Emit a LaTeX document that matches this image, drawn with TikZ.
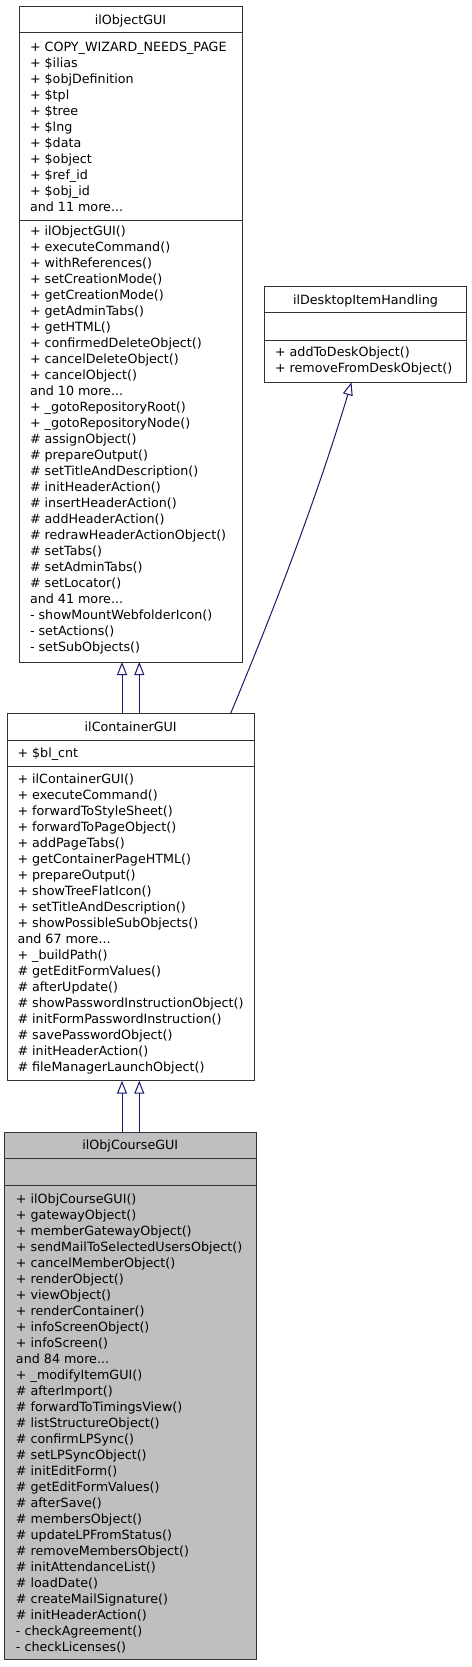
\documentclass[tikz,border=0pt]{standalone}
\usepackage{fontspec}
\setmainfont{DejaVu Sans}
\usetikzlibrary{arrows.meta}
\definecolor{edgeblue}{HTML}{191970}
\definecolor{boxgray}{HTML}{BFBFBF}
\definecolor{boxline}{HTML}{333333}
\newcommand\umlfont{\fontsize{12.7}{16}\selectfont}
\newcommand\mdots{.{}.{}.}
\newcommand\umlLines[4]{%
  \foreach \t [count=\i from 0] in {#4} {
    \node[txt] (#1\i) at (#2, #3+16*\i) {\t};
  }%
}
\begin{document}
\begin{tikzpicture}[x=1pt,y=-1pt,
  box/.style={draw=boxline, line width=1pt, inner sep=0pt, outer sep=0pt, anchor=north west, fill=white},
  sepline/.style={draw=boxline, line width=1pt},
  txt/.style={anchor=base west, inner sep=0pt, outer sep=0pt, font=\umlfont},
  ttl/.style={anchor=base, inner sep=0pt, outer sep=0pt, font=\umlfont},
  inh/.style={draw=edgeblue, line width=1pt, -{Triangle[open, length=13pt, width=10pt, line width=1pt]}}
]
\useasboundingbox (0,0) rectangle (471,1667);
\fill[white] (0,0) rectangle (471,1667);

% ---------- ilObjectGUI ----------
\node[box, minimum width=223pt, minimum height=655pt] (obj) at (19,7) {};
\draw[sepline] (19,33) -- (242,33);
\draw[sepline] (19,220) -- (242,220);
\node[ttl] (objt) at (130.5,24.7) {ilObjectGUI};
\umlLines{oa}{30}{51.7}{+ COPY\_WIZARD\_NEEDS\_PAGE, + \$ilias, + \$objDefinition, + \$tpl, + \$tree, + \$lng, + \$data, + \$object, + \$ref\_id, + \$obj\_id, and 11 more\mdots}
\umlLines{om}{30}{235.7}{+ ilObjectGUI(), + executeCommand(), + withReferences(), + setCreationMode(), + getCreationMode(), + getAdminTabs(), + getHTML(), + confirmedDeleteObject(), + cancelDeleteObject(), + cancelObject(), and 10 more\mdots, + \_gotoRepositoryRoot(), + \_gotoRepositoryNode(), \# assignObject(), \# prepareOutput(), \# setTitleAndDescription(), \# initHeaderAction(), \# insertHeaderAction(), \# addHeaderAction(), \# redrawHeaderActionObject(), \# setTabs(), \# setAdminTabs(), \# setLocator(), and 41 more\mdots, - showMountWebfolderIcon(), - setActions(), - setSubObjects()}

% ---------- ilDesktopItemHandling ----------
\node[box, minimum width=202.4pt, minimum height=95.6pt] (desk) at (264.3,286.7) {};
\draw[sepline] (264.3,312.7) -- (466.7,312.7);
\draw[sepline] (264.3,340) -- (466.7,340);
\node[ttl] (deskt) at (365.5,304.7) {ilDesktopItemHandling};
\umlLines{dm}{275}{356.4}{+ addToDeskObject(), + removeFromDeskObject()}

% ---------- ilContainerGUI ----------
\node[box, minimum width=246.7pt, minimum height=367.4pt] (cont) at (7.3,713.3) {};
\draw[sepline] (7.3,740) -- (254,740);
\draw[sepline] (7.3,766.7) -- (254,766.7);
\node[ttl] (contt) at (130.7,731.4) {ilContainerGUI};
\umlLines{ca}{17.5}{757.4}{+ \$bl\_cnt}
\umlLines{cm}{17.5}{783.4}{+ ilContainerGUI(), + executeCommand(), + forwardToStyleSheet(), + forwardToPageObject(), + addPageTabs(), + getContainerPageHTML(), + prepareOutput(), + showTreeFlatIcon(), + setTitleAndDescription(), + showPossibleSubObjects(), and 67 more\mdots, + \_buildPath(), \# getEditFormValues(), \# afterUpdate(), \# showPasswordInstructionObject(), \# initFormPasswordInstruction(), \# savePasswordObject(), \# initHeaderAction(), \# fileManagerLaunchObject()}

% ---------- ilObjCourseGUI ----------
\node[box, fill=boxgray, minimum width=251.3pt, minimum height=526.7pt] (course) at (4.7,1132.3) {};
\draw[sepline] (4.7,1158.3) -- (256,1158.3);
\draw[sepline] (4.7,1185) -- (256,1185);
\node[ttl] (courset) at (130.3,1149.7) {ilObjCourseGUI};
\umlLines{km}{16}{1203}{+ ilObjCourseGUI(), + gatewayObject(), + memberGatewayObject(), + sendMailToSelectedUsersObject(), + cancelMemberObject(), + renderObject(), + viewObject(), + renderContainer(), + infoScreenObject(), + infoScreen(), and 84 more\mdots, + \_modifyItemGUI(), \# afterImport(), \# forwardToTimingsView(), \# listStructureObject(), \# confirmLPSync(), \# setLPSyncObject(), \# initEditForm(), \# getEditFormValues(), \# afterSave(), \# membersObject(), \# updateLPFromStatus(), \# removeMembersObject(), \# initAttendanceList(), \# loadDate(), \# createMailSignature(), \# initHeaderAction(), - checkAgreement(), - checkLicenses()}

% ---------- connectors ----------
\coordinate (xa) at (122,0);
\coordinate (xb) at (139.3,0);
\coordinate (xc) at (230.7,0);
\coordinate (xd) at (351.5,0);
\draw[inh] (cont.north -| xa) -- (obj.south -| xa);
\draw[inh] (cont.north -| xb) -- (obj.south -| xb);
\draw[inh] (course.north -| xa) -- (cont.south -| xa);
\draw[inh] (course.north -| xb) -- (cont.south -| xb);
\draw[inh] (cont.north -| xc) .. controls (276.9,602.7) and (318.5,492.3) .. (desk.south -| xd);
\end{tikzpicture}
\end{document}
